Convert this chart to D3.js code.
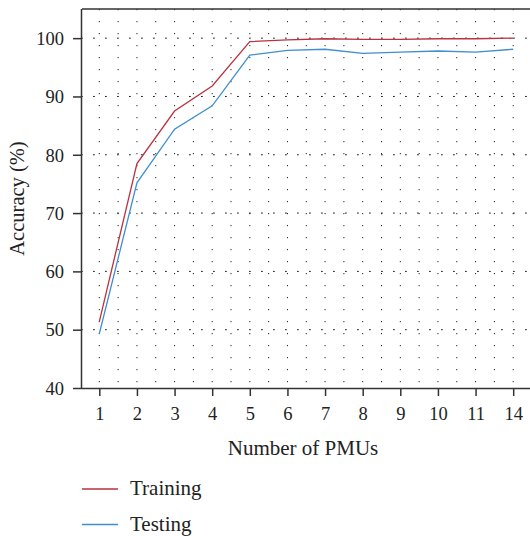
<!DOCTYPE html>
<html>
<head>
<meta charset="utf-8">
<script src="https://cdn.jsdelivr.net/npm/d3@7"></script>
<style>
  body { margin: 0; background: #fff; }
  svg { display: block; font-family: "Liberation Serif", "DejaVu Serif", serif; }
</style>
</head>
<body>
<svg id="chart"></svg>
<script>
// data
const pmus = ["1", "2", "3", "4", "5", "6", "7", "8", "9", "10", "11", "14"];
const training = [51.4, 78.5, 87.5, 91.8, 99.4, 99.7, 99.9, 99.8, 99.8, 99.9, 99.9, 100.0];
const testing = [49.3, 75.2, 84.4, 88.4, 97.1, 97.9, 98.1, 97.4, 97.6, 97.8, 97.6, 98.1];
const yTicks = [40, 50, 60, 70, 80, 90, 100];
const seriesNames = ["Training", "Testing"];
const colors = ["#b8323f", "#3f8fcf"];

const width = 530, height = 536;
const margin = { top: 9, left: 82, bottom: 388 };

const svg = d3.select("#chart").attr("width", width).attr("height", height);

const x = d3.scalePoint().domain(pmus).range([80.5, 532]).padding(0.5);
const y = d3.scaleLinear().domain([40, 105]).range([margin.bottom, margin.top]);

const grid = svg.append("g");

// vertical dotted lines at every category and half step
const half = x.step() / 2;
const vx = [];
pmus.forEach((p, i) => {
  vx.push(x(p));
  if (i < pmus.length - 1) vx.push(x(p) + half);
});
grid.selectAll("line.v")
  .data(vx)
  .join("line")
  .attr("class", "v")
  .attr("x1", d => d).attr("x2", d => d)
  .attr("y1", margin.bottom).attr("y2", margin.top)
  .attr("stroke", "#222")
  .attr("stroke-width", 1)
  .attr("stroke-dasharray", "1.2,10.8")
  .attr("stroke-dashoffset", -5.8);

// horizontal dotted lines at the major ticks
grid.selectAll("line.h")
  .data(yTicks.slice(1))
  .join("line")
  .attr("class", "h")
  .attr("x1", margin.left).attr("x2", width)
  .attr("y1", d => y(d)).attr("y2", d => y(d))
  .attr("stroke", "#222")
  .attr("stroke-width", 1)
  .attr("stroke-dasharray", "1.8,10.2")
  .attr("stroke-dashoffset", -11);

// top frame line
svg.append("line")
  .attr("x1", margin.left).attr("x2", width)
  .attr("y1", margin.top).attr("y2", margin.top)
  .attr("stroke", "#333").attr("stroke-width", 1.5);

const line = d3.line()
  .x((d, i) => x(pmus[i]))
  .y(d => y(d));

[training, testing].forEach((s, k) => {
  svg.append("path")
    .datum(s)
    .attr("d", line)
    .attr("fill", "none")
    .attr("stroke", colors[k])
    .attr("stroke-width", 1.3);
});

// axes
const xAxis = svg.append("g")
  .attr("transform", `translate(0,${margin.bottom})`)
  .call(d3.axisBottom(x).tickSize(8).tickPadding(11));
xAxis.select(".domain").attr("d", `M${margin.left},0.5H${width}`);

const yAxis = svg.append("g")
  .attr("transform", `translate(${margin.left},0)`)
  .call(d3.axisLeft(y).tickValues(yTicks).tickSize(9).tickPadding(9));
yAxis.select(".domain").attr("d", `M-0.5,${margin.bottom}V${margin.top}`);

svg.selectAll(".tick line").attr("stroke", "#333").attr("stroke-width", 1.5);
svg.selectAll(".domain").attr("stroke", "#333").attr("stroke-width", 1.5);
svg.selectAll(".tick text")
  .attr("font-family", "Liberation Serif, DejaVu Serif, serif")
  .attr("font-size", 18.5)
  .attr("fill", "#222");
yAxis.selectAll(".tick text").attr("dy", "0.34em");

// axis titles
svg.append("text")
  .attr("x", 303).attr("y", 455)
  .attr("text-anchor", "middle")
  .attr("font-size", 21)
  .attr("fill", "#222")
  .text("Number of PMUs");

svg.append("text")
  .attr("transform", `translate(24,${(margin.top + margin.bottom) / 2}) rotate(-90)`)
  .attr("text-anchor", "middle")
  .attr("font-size", 20.5)
  .attr("fill", "#222")
  .text("Accuracy (%)");

// legend
const legend = svg.append("g").attr("transform", "translate(82,489)");
const item = legend.selectAll("g")
  .data(seriesNames)
  .join("g")
  .attr("transform", (d, i) => `translate(0,${i * 35.5})`);
item.append("line")
  .attr("x1", 0).attr("x2", 36)
  .attr("stroke", (d, i) => colors[i])
  .attr("stroke-width", 1.3);
item.append("text")
  .attr("x", 48).attr("y", 6)
  .attr("font-size", 21)
  .attr("fill", "#222")
  .text(d => d);
</script>
</body>
</html>
